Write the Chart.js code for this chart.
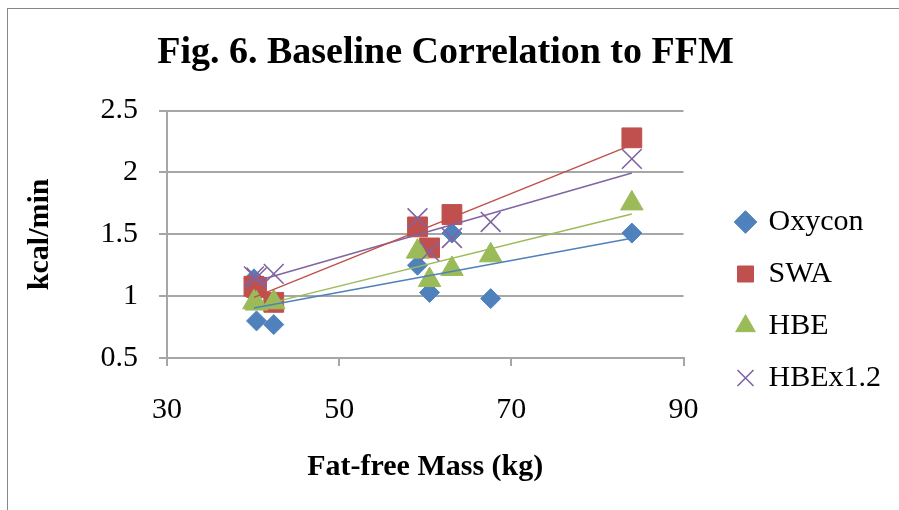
<!DOCTYPE html>
<html>
<head>
<meta charset="utf-8">
<script src="https://cdn.jsdelivr.net/npm/chart.js@4.4.0/dist/chart.umd.min.js"></script>
<style>
  html, body { margin: 0; padding: 0; background: #fff; overflow: hidden; }
  #wrap { position: relative; width: 899px; height: 510px; }
  #frame { position: absolute; left: 7px; top: 8px; width: 1000px; height: 1000px; border: 1px solid #878787; pointer-events: none; }
  canvas { position: absolute; left: 0; top: 0; }
</style>
</head>
<body>
<div id="wrap">
  <canvas id="fig6" width="899" height="510"></canvas>
  <div id="frame"></div>
</div>
<script>
// Dados (massa livre de gordura em kg, gasto em kcal/min)
const oxyconX = [40.1, 40.4, 42.4, 59.1, 60.5, 63.1, 67.6, 84.0];
const oxyconY = [1.14, 0.80, 0.77, 1.25, 1.03, 1.51, 0.98, 1.51];

const swaX = [40.1, 40.4, 42.4, 59.1, 60.5, 63.1, 84.0];
const swaY = [1.08, 1.07, 0.95, 1.56, 1.39, 1.66, 2.28];

const hbeX = [40.1, 40.4, 42.4, 59.1, 60.5, 63.1, 67.6, 84.0];
const hbeY = [0.95, 0.94, 0.95, 1.36, 1.13, 1.22, 1.33, 1.75];

const hbe12X = [40.1, 40.4, 42.4, 59.1, 60.5, 63.1, 67.6, 84.0];
const hbe12Y = [1.16, 1.15, 1.18, 1.63, 1.36, 1.47, 1.60, 2.11];

const seriesNames = ['Oxycon', 'SWA', 'HBE', 'HBEx1.2'];
const xTicks = [30, 50, 70, 90];
const yTicks = [0.5, 1, 1.5, 2, 2.5];

const colors = ['#4F81BD', '#C0504D', '#9BBB59', '#8064A2'];
const gridGray = '#a6a6a6';

Chart.defaults.font.family = "'Liberation Serif', 'Times New Roman', serif";
Chart.defaults.color = '#000';

// junta x e y em pontos
const toPoints = (xs, ys) => xs.map((x, i) => ({ x: x, y: ys[i] }));

// linha de tendência linear (mínimos quadrados), igual à do Excel
function trend(xs, ys) {
    const n = xs.length;
    const mx = xs.reduce((a, b) => a + b, 0) / n;
    const my = ys.reduce((a, b) => a + b, 0) / n;
    let sxy = 0, sxx = 0;
    xs.forEach((x, i) => { sxy += (x - mx) * (ys[i] - my); sxx += (x - mx) * (x - mx); });
    const b = sxy / sxx;
    const a = my - b * mx;
    const x0 = Math.min(...xs), x1 = Math.max(...xs);
    return [{ x: x0, y: a + b * x0 }, { x: x1, y: a + b * x1 }];
}

const allX = [oxyconX, swaX, hbeX, hbe12X];
const allY = [oxyconY, swaY, hbeY, hbe12Y];
const styles = [
    { pointStyle: 'rectRot', radius: 10, border: 1 },
    { pointStyle: 'rect', radius: 14, border: 1 },
    { pointStyle: 'triangle', radius: 13, border: 1 },
    { pointStyle: 'crossRot', radius: 14, border: 1.6 }
];

const markerSets = seriesNames.map((name, i) => ({
    label: name,
    data: toPoints(allX[i], allY[i]),
    pointStyle: styles[i].pointStyle,
    pointRadius: styles[i].radius,
    pointHoverRadius: styles[i].radius,
    backgroundColor: colors[i],
    borderColor: colors[i],
    borderWidth: styles[i].border,
    showLine: false,
    order: 4 - i
}));

const trendSets = seriesNames.map((name, i) => ({
    label: 'trend ' + name,
    type: 'line',
    data: trend(allX[i], allY[i]),
    borderColor: colors[i],
    borderWidth: 1.5,
    pointRadius: 0,
    fill: false,
    order: 0
}));

const config = {
    type: 'scatter',
    data: { datasets: markerSets.concat(trendSets) },
    options: {
        responsive: false,
        animation: false,
        layout: { padding: { left: 0, top: 0, right: 8, bottom: 0 } },
        plugins: {
            title: {
                display: true,
                text: 'Fig. 6. Baseline Correlation to FFM',
                font: { size: 38, weight: 'bold' },
                color: '#000',
                padding: { top: 30, bottom: 35 }
            },
            legend: {
                position: 'right',
                align: 'start',
                maxWidth: 300,
                title: { display: true, text: ' ', font: { size: 10 }, padding: { top: 173, bottom: 0 } },
                labels: {
                    usePointStyle: true,
                    boxWidth: 16,
                    boxHeight: 16,
                    padding: 22,
                    color: '#000',
                    font: { size: 30 },
                    filter: item => !item.text.startsWith('trend'),
                    sort: (a, b) => a.datasetIndex - b.datasetIndex
                }
            },
            tooltip: { enabled: false }
        },
        scales: {
            x: {
                type: 'linear',
                min: 30,
                max: 90,
                afterBuildTicks: s => { s.ticks = xTicks.map(v => ({ value: v })); },
                afterFit: s => { s.height = 152; },
                grid: { drawOnChartArea: false, drawTicks: true, tickLength: 8, color: gridGray, lineWidth: 2 },
                border: { display: true, color: gridGray, width: 2 },
                ticks: { font: { size: 30 }, padding: 26, color: '#000', callback: v => String(v) },
                title: { display: true, text: 'Fat-free Mass (kg)', font: { size: 30, weight: 'bold' }, padding: { top: 0, bottom: 25 }, color: '#000' }
            },
            y: {
                type: 'linear',
                min: 0.5,
                max: 2.5,
                afterBuildTicks: s => { s.ticks = yTicks.map(v => ({ value: v })); },
                afterFit: s => { s.width = 167; },
                grid: { drawTicks: true, tickLength: 8, color: gridGray, lineWidth: 2 },
                border: { display: true, color: gridGray, width: 2 },
                ticks: { font: { size: 30 }, padding: 21, color: '#000', callback: v => String(v) },
                title: { display: true, text: 'kcal/min', font: { size: 30, weight: 'bold' }, padding: { top: 22, bottom: 0 }, color: '#000' }
            },
            // eixo vazio só para afastar a legenda da área do gráfico
            gap: {
                type: 'linear',
                position: 'right',
                display: true,
                afterFit: s => { s.width = 32; },
                grid: { display: false },
                border: { display: false },
                ticks: { display: false }
            }
        }
    }
};

new Chart(document.getElementById('fig6').getContext('2d'), config);
</script>
</body>
</html>
